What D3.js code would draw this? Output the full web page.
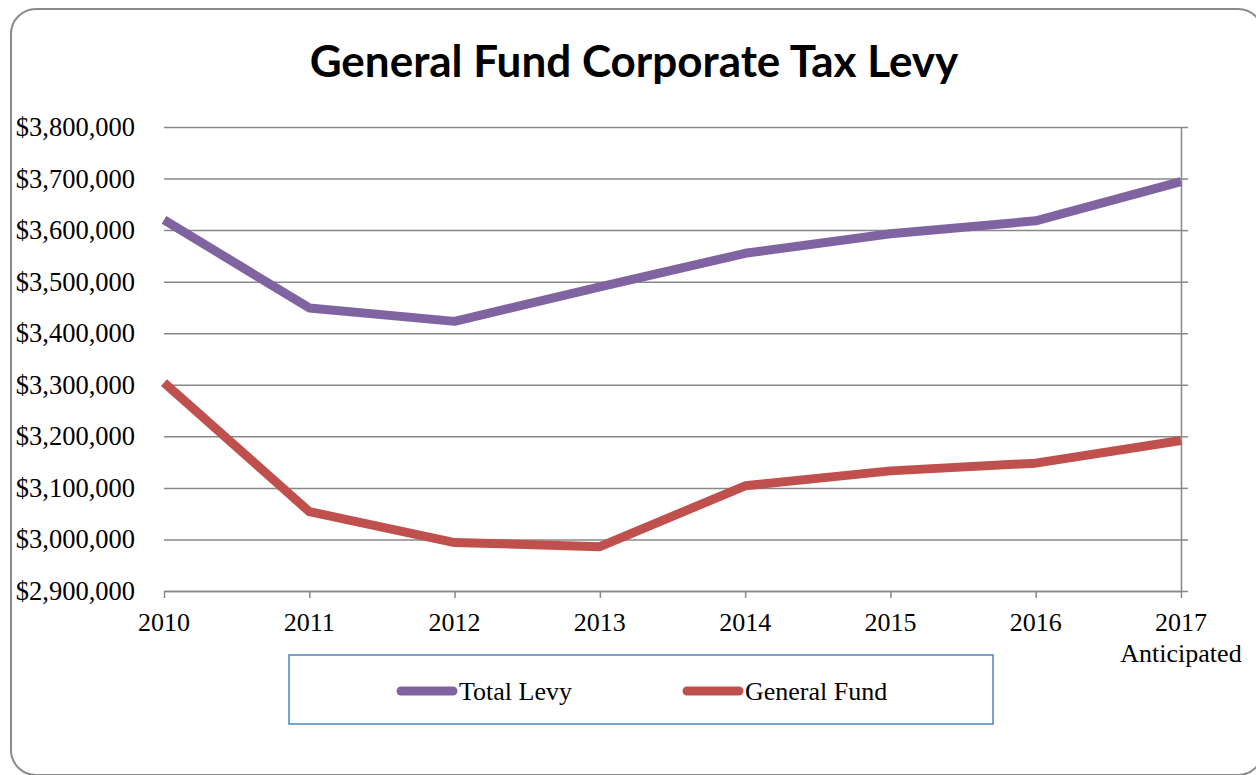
<!DOCTYPE html>
<html>
<head>
<meta charset="utf-8">
<script src="https://cdn.jsdelivr.net/npm/d3@7"></script>
<style>
  html, body { margin: 0; padding: 0; background: #fff; }
  svg { display: block; }
</style>
</head>
<body>
<svg id="chart" width="1256" height="775"></svg>
<script>
// Fiscal years on the category axis; the last year is a projection
const categories = ["2010", "2011", "2012", "2013", "2014", "2015", "2016", "2017"];
const categoryNotes = ["", "", "", "", "", "", "", "Anticipated"];

// Levy amounts in dollars
const totalLevy   = [3620000, 3449000, 3423000, 3490000, 3555000, 3593000, 3618000, 3694000];
const generalFund = [3304000, 3054000, 2994000, 2986000, 3104000, 3133000, 3148000, 3192000];

// Value axis ticks
const yTicks = [2900000, 3000000, 3100000, 3200000, 3300000, 3400000, 3500000, 3600000, 3700000, 3800000];

const seriesNames  = ["Total Levy", "General Fund"];
const seriesColors = ["#8064A2", "#C0504D"];

const svg = d3.select("#chart");
const plot = { left: 164, right: 1181, top: 127, bottom: 591 };
const serif = "'Liberation Serif', 'Times New Roman', serif";

// Rounded outer frame
svg.append("rect")
  .attr("x", 11).attr("y", 9)
  .attr("width", 1252).attr("height", 766)
  .attr("rx", 25).attr("ry", 25)
  .attr("fill", "#fff")
  .attr("stroke", "#8a8a8a")
  .attr("stroke-width", 2);

// Title
svg.append("text")
  .attr("x", 634).attr("y", 77)
  .attr("text-anchor", "middle")
  .attr("font-family", "Lato, 'Open Sans', sans-serif")
  .attr("font-weight", 700)
  .attr("font-size", 44)
  .attr("fill", "#000")
  .text("General Fund Corporate Tax Levy");

const x = d3.scalePoint().domain(categories).range([plot.left, plot.right]);
const y = d3.scaleLinear().domain([d3.min(yTicks), d3.max(yTicks)]).range([plot.bottom, plot.top]);
const fmt = v => "$" + d3.format(",")(v);

// Horizontal gridlines
const grid = svg.append("g")
  .attr("transform", `translate(${plot.left},0)`)
  .call(d3.axisLeft(y).tickValues(yTicks).tickSize(-(plot.right - plot.left)).tickFormat(""));
grid.select(".domain").remove();
grid.selectAll(".tick line").attr("stroke", "#888").attr("stroke-width", 1.5);

// Value labels on the left
const yAxis = svg.append("g")
  .attr("transform", `translate(${plot.left},0)`)
  .call(d3.axisLeft(y).tickValues(yTicks).tickSize(0).tickPadding(29).tickFormat(fmt));
yAxis.select(".domain").remove();
yAxis.selectAll("text")
  .attr("font-family", serif).attr("font-size", 26.5).attr("fill", "#000");

// Vertical axis line at the right with outward ticks
const yRight = svg.append("g")
  .attr("transform", `translate(${plot.right},0)`)
  .call(d3.axisRight(y).tickValues(yTicks).tickSize(7).tickSizeOuter(0).tickFormat(""));
yRight.selectAll("path, line").attr("stroke", "#888").attr("stroke-width", 1.5);

// Category axis
const xAxis = svg.append("g")
  .attr("transform", `translate(0,${plot.bottom})`)
  .call(d3.axisBottom(x).tickSize(7).tickSizeOuter(0).tickPadding(6).tickFormat(""));
xAxis.selectAll("path, line").attr("stroke", "#888").attr("stroke-width", 1.5);

const xLabels = svg.append("g").selectAll("text")
  .data(categories)
  .join("text")
  .attr("x", d => x(d))
  .attr("y", plot.bottom + 40)
  .attr("text-anchor", "middle")
  .attr("font-family", serif).attr("font-size", 26).attr("fill", "#000");
xLabels.append("tspan").text(d => d);
xLabels.append("tspan")
  .attr("x", d => x(d)).attr("dy", 31)
  .text((d, i) => categoryNotes[i]);

// Series lines
const line = d3.line()
  .x((d, i) => x(categories[i]))
  .y(d => y(d));

[totalLevy, generalFund].forEach((vals, k) => {
  svg.append("path")
    .datum(vals)
    .attr("d", line)
    .attr("fill", "none")
    .attr("stroke", seriesColors[k])
    .attr("stroke-width", 9)
    .attr("stroke-linejoin", "round")
    .attr("stroke-linecap", "butt");
});

// Legend
const legend = svg.append("g");
legend.append("rect")
  .attr("x", 289).attr("y", 655)
  .attr("width", 704).attr("height", 69)
  .attr("fill", "#fff")
  .attr("stroke", "#4F81BD")
  .attr("stroke-width", 1.5);

const legendX = [401, 687];
seriesNames.forEach((name, k) => {
  const lx = legendX[k];
  legend.append("line")
    .attr("x1", lx).attr("x2", lx + 52)
    .attr("y1", 691).attr("y2", 691)
    .attr("stroke", seriesColors[k])
    .attr("stroke-width", 9)
    .attr("stroke-linecap", "round");
  legend.append("text")
    .attr("x", lx + 58).attr("y", 700)
    .attr("font-family", serif).attr("font-size", 26).attr("fill", "#000")
    .text(name);
});
</script>
</body>
</html>
